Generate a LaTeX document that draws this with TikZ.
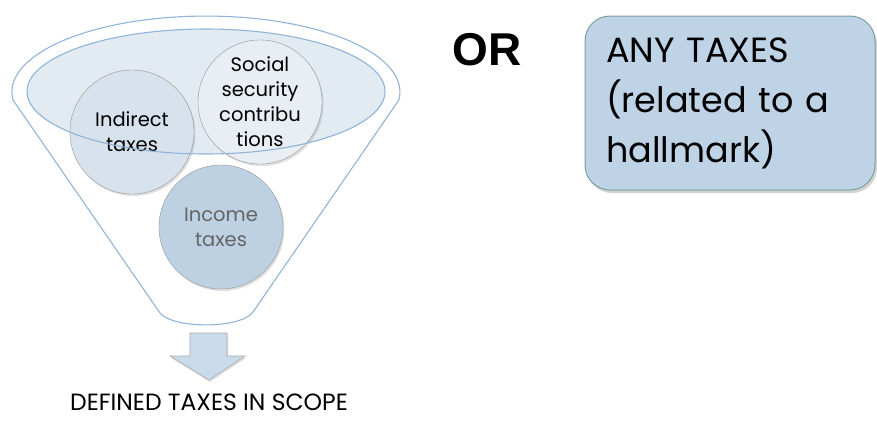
\documentclass[tikz,border=0pt]{standalone}
\usepackage{fontspec}
\setmainfont{Poppins}
\newfontfamily\orfont{Liberation Sans}
\usepackage{tikz}
\usetikzlibrary{shadows}
\definecolor{funnelblue}{RGB}{143,180,216}
\definecolor{rimgray}{RGB}{150,150,150}
\definecolor{indfill}{RGB}{215,226,237}
\definecolor{socfill}{RGB}{232,238,244}
\definecolor{incfill}{RGB}{189,209,227}
\definecolor{ringfill}{RGB}{226,234,242}
\definecolor{boxfill}{RGB}{191,211,230}
\definecolor{boxedge}{RGB}{122,160,158}
\definecolor{incgray}{RGB}{100,100,100}

\begin{document}
\begin{tikzpicture}[x=1pt, y=1pt,
    taxcircle/.style={circle, draw=rimgray, fill=#1, minimum size=124pt,
                      inner sep=0pt, align=center,
                      font=\fontsize{19.5}{25}\selectfont,
                      drop shadow={opacity=0.25, shadow xshift=1.5pt, shadow yshift=-2pt}},
    funnel/.style={draw=funnelblue, line width=1.1pt},
    ring/.style={draw=funnelblue, line width=1.1pt},
    anybox/.style={draw=boxedge, line width=1pt, fill=boxfill, rounded corners=25pt,
                   minimum width=290pt, minimum height=174pt, inner xsep=21pt,
                   text width=248pt, align=left,
                   font=\fontsize{35}{50}\selectfont,
                   drop shadow={opacity=0.35, shadow xshift=2pt, shadow yshift=-3pt}},
    downarr/.style={draw=rimgray!80, fill=boxfill!85, line width=0.6pt,
                    drop shadow={opacity=0.25, shadow xshift=1pt, shadow yshift=-2pt}}
]
\useasboundingbox (0,0) rectangle (877,-421);

%% ── Funnel outline and inner ring ──────────────────────────────────────
\draw[funnel] (13,-100) arc[start angle=186, end angle=-6, x radius=194, y radius=76]
      -- (253,-312) .. controls (241,-329) and (173,-329) .. (160,-313) -- cycle;
\fill[ringfill] (206,-91.5) ellipse [x radius=179, y radius=62.5];

%% ── Tax circles ────────────────────────────────────────────────────────
\node[taxcircle=indfill] (indirect) at (132,-132) {Indirect\\taxes};
\node[taxcircle=socfill] (social)   at (260,-102) {Social\\security\\contribu\\tions};
\node[taxcircle=incfill, text=incgray] (income) at (221,-227) {Income\\taxes};

%% ── Ring edge on top ───────────────────────────────────────────────────
\draw[ring] (206,-91.5) ellipse [x radius=179, y radius=62.5];

%% ── Down arrow and caption ─────────────────────────────────────────────
\draw[downarr] (190,-333) -- (227,-333) -- (227,-356) -- (245,-356)
      -- (209,-380) -- (170,-356) -- (190,-356) -- cycle;
\node[font=\fontsize{23.5}{26}\selectfont] (scope) at (209,-402) {DEFINED TAXES IN SCOPE};

%% ── Alternative ────────────────────────────────────────────────────────
\node[font=\orfont\bfseries\fontsize{46}{50}\selectfont] (or) at (487,-50) {OR};
\node[anybox] (any) at (730,-103) {ANY TAXES\\(related to a\\hallmark)};
\end{tikzpicture}
\end{document}
